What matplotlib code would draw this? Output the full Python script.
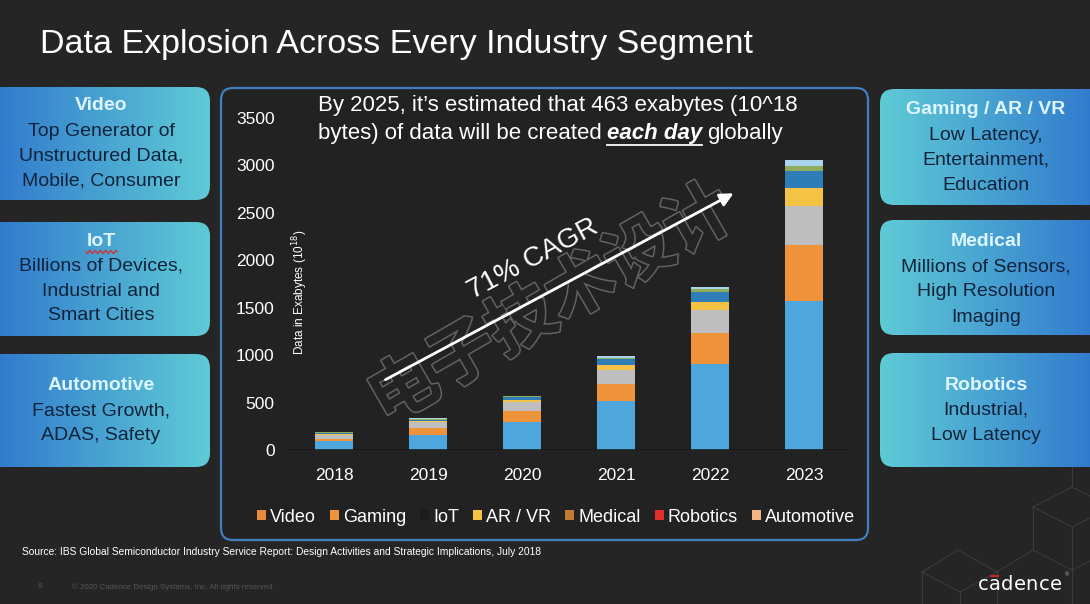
import matplotlib
matplotlib.use("Agg")
import matplotlib.pyplot as plt
import matplotlib.patheffects as pe
import numpy as np
from matplotlib.patches import FancyBboxPatch, Patch
from matplotlib.colors import LinearSegmentedColormap

plt.rcParams['font.family'] = ['Liberation Sans', 'DejaVu Sans']

# ---- data (exabytes) ----
years = ['2018', '2019', '2020', '2021', '2022', '2023']
seg_blue      = [90, 160, 300, 512, 905, 1574]
seg_orange    = [30, 75, 106, 188, 333, 590]
seg_gray      = [35, 55, 96, 141, 233, 411]
seg_yellow    = [10, 12, 21, 50, 92, 184]
seg_darkblue  = [15, 15, 35, 64, 99, 184]
seg_green     = [5, 10, 8, 10, 36, 56]
seg_lightblue = [5, 6, 8, 25, 21, 57]
seg_colors = ['#4FA6DC', '#EF933B', '#BEBEBE', '#F4C244', '#2F7DB6', '#8FAB5C', '#A8D4EC']

legend_labels = ['Video', 'Gaming', 'IoT', 'AR / VR', 'Medical', 'Robotics', 'Automotive']
legend_colors = ['#E98A3C', '#EF933B', '#1C1C1C', '#F4C244', '#C27A33', '#E0302E', '#F3B586']

yticks = [0, 500, 1000, 1500, 2000, 2500, 3000, 3500]

left_boxes = [
    ('Video', ['Top Generator of', 'Unstructured Data,', 'Mobile, Consumer']),
    ('IoT', ['Billions of Devices,', 'Industrial and', 'Smart Cities']),
    ('Automotive', ['Fastest Growth,', 'ADAS, Safety']),
]
right_boxes = [
    ('Gaming / AR / VR', ['Low Latency,', 'Entertainment,', 'Education']),
    ('Medical', ['Millions of Sensors,', 'High Resolution', 'Imaging']),
    ('Robotics', ['Industrial,', 'Low Latency']),
]

BG = '#252525'
W, H = 1090, 604
fig = plt.figure(figsize=(W / 100, H / 100), dpi=100, facecolor=BG)

# background layer in pixel coordinates
bg = fig.add_axes([0, 0, 1, 1])
bg.axis('off')

bg.text(40, 45, 'Data Explosion Across Every Industry Segment', color='white',
        fontsize=24.5, ha='left', va='center')

panel = FancyBboxPatch((221, 88), 647, 452, boxstyle='round,pad=0,rounding_size=12',
                       fc='#222222', ec='#3F7FC2', lw=1.6, zorder=0.5)
bg.add_patch(panel)

cmap = LinearSegmentedColormap.from_list('tile', ['#2E74CC', '#5FCBD6'])


def grad_box(x, y, w, h, reverse):
    p = FancyBboxPatch((x, y), w, h, boxstyle='round,pad=0,rounding_size=14',
                       fc='none', ec='none')
    bg.add_patch(p)
    g = np.linspace(0, 1, 256).reshape(1, -1)
    if reverse:
        g = g[:, ::-1]
    im = bg.imshow(g, extent=(x, x + w, y + h, y), cmap=cmap, aspect='auto', zorder=1)
    im.set_clip_path(p)


def box_text(cx, ytop, title, lines):
    bg.text(cx, ytop, title, color='#DDF6FF', fontsize=14, fontweight='bold',
            ha='center', va='center', zorder=3)
    for i, ln in enumerate(lines):
        bg.text(cx, ytop + 25 * (i + 1), ln, color='#10233A', fontsize=14,
                ha='center', va='center', zorder=3)


left_geo = [(87, 113, 106), (222, 114, 241), (354, 113, 386)]
right_geo = [(89, 116, 110), (220, 115, 242), (353, 114, 385)]
for (title, lines), (y, h, yt) in zip(left_boxes, left_geo):
    grad_box(-20, y, 230, h, False)
    box_text(101, yt, title, lines)
for (title, lines), (y, h, yt) in zip(right_boxes, right_geo):
    grad_box(880, y, 230, h, True)
    box_text(986, yt, title, lines)
# spell-check squiggle under IoT
sx = np.linspace(86, 117, 40)
bg.plot(sx, 252 + 1.5 * np.sin((sx - 86) * 1.2), color='#D0343A', lw=1, zorder=3)

# faint cube wireframe, bottom right
cube_lines = [
    [(1072, 440), (1072, 487)], [(1072, 487), (1033, 507)], [(1033, 507), (1072, 527)],
    [(1072, 527), (1090, 518)], [(1072, 487), (1090, 496)], [(1033, 507), (1033, 550)],
    [(1072, 527), (1072, 570)], [(1033, 550), (1072, 570)], [(1072, 570), (1090, 561)],
    [(1033, 550), (997, 572)], [(997, 572), (958, 550)], [(958, 550), (922, 572)],
    [(922, 572), (960, 592)], [(960, 592), (997, 572)], [(922, 572), (922, 604)],
    [(960, 592), (960, 604)], [(997, 572), (997, 604)], [(1072, 570), (1072, 604)],
]
for (x0, y0), (x1, y1) in cube_lines:
    bg.plot([x0, x1], [y0, y1], color='#3A3A3A', lw=0.8, zorder=0.2)

bg.text(22, 552, 'Source: IBS Global Semiconductor Industry Service Report: Design Activities '
        'and Strategic Implications, July 2018', color='white', fontsize=7.4, ha='left', va='center')
bg.text(38, 587, '8', color='#555555', fontsize=5.5, ha='left', va='center')
bg.text(72, 587, '\u00a9 2020 Cadence Design Systems, Inc. All rights reserved.',
        color='#555555', fontsize=5.7, ha='left', va='center')
for i, ch in enumerate('cadence'):
    bg.text(983 + 12.2 * i, 585, ch, color='white', fontsize=14, ha='center', va='center',
            family='DejaVu Sans')
bg.plot([991, 998], [576, 576], color='#C8242B', lw=1.5)
bg.text(1067, 575, '\u00ae', color='#BBBBBB', fontsize=4, ha='center', va='center')

bg.set_xlim(0, W)
bg.set_ylim(H, 0)

# ---- the chart ----
ax = fig.add_axes([287 / W, 154 / H, 564 / W, 332 / H])
ax.set_facecolor('none')
x = np.arange(len(years))
bottom = np.zeros(len(years))
for vals, col in zip([seg_blue, seg_orange, seg_gray, seg_yellow, seg_darkblue,
                      seg_green, seg_lightblue], seg_colors):
    ax.bar(x, vals, width=0.4, bottom=bottom, color=col, zorder=2)
    bottom += np.array(vals)
ax.axhline(0, color='#161616', lw=1.8, zorder=3)
ax.set_xlim(-0.5, 5.5)
ax.set_ylim(0, 3500)
ax.set_yticks(yticks)
ax.set_xticks(x)
ax.set_xticklabels(years)
for s in ax.spines.values():
    s.set_visible(False)
ax.tick_params(axis='y', length=0, pad=9, labelsize=12.5, labelcolor='white')
ax.tick_params(axis='x', length=0, pad=13, labelsize=12.5, labelcolor='white')

handles = [Patch(facecolor=c, edgecolor='none') for c in legend_colors]
fig.legend(handles, legend_labels, loc='center', bbox_to_anchor=(556 / W, 1 - 517 / H),
           ncol=7, frameon=False, fontsize=13, labelcolor='white', handlelength=0.5,
           handleheight=0.5, handletextpad=0.2, columnspacing=0.8)

# ---- overlay: watermark, arrow, headline ----
ov = fig.add_axes([0, 0, 1, 1])
ov.set_facecolor('none')
ov.axis('off')
ov.set_xlim(0, W)
ov.set_ylim(H, 0)

ov.text(552, 306, '电子技术设计', family=['Noto Sans CJK SC', 'DejaVu Sans'], fontsize=49,
        fontweight='bold', rotation=30, rotation_mode='anchor', ha='center', va='center',
        color='#232323', path_effects=[pe.withStroke(linewidth=2.2, foreground='#626262')],
        zorder=1)
ov.annotate('', xy=(736, 192), xytext=(383, 381),
            arrowprops=dict(arrowstyle='-|>', color='white', lw=2, mutation_scale=20), zorder=3)
ov.text(533, 259, '71% CAGR', color='white', fontsize=20, rotation=28,
        rotation_mode='anchor', ha='center', va='center', zorder=3)

ov.text(318, 105, 'By 2025, it\u2019s estimated that 463 exabytes (10^18', color='white',
        fontsize=16, ha='left', va='center', zorder=3)
r = fig.canvas.get_renderer()
t1 = ov.text(318, 133, 'bytes) of data will be created', color='white', fontsize=16,
             ha='left', va='center', zorder=3)
x1 = t1.get_window_extent(r).x1 + 5
t2 = ov.text(x1, 133, 'each day', color='white', fontsize=16, fontweight='bold',
             fontstyle='italic', ha='left', va='center', zorder=3)
e2 = t2.get_window_extent(r)
ov.plot([e2.x0, e2.x1], [145, 145], color='white', lw=1.3, zorder=3)
ov.text(e2.x1 + 5, 133, 'globally', color='white', fontsize=16, ha='left',
        va='center', zorder=3)

ov.text(300, 292, 'Data in Exabytes (10$^{18}$)', color='white', fontsize=8.5,
        rotation=90, ha='center', va='center', zorder=3)

fig.savefig('out.png', dpi=100, facecolor=BG)
